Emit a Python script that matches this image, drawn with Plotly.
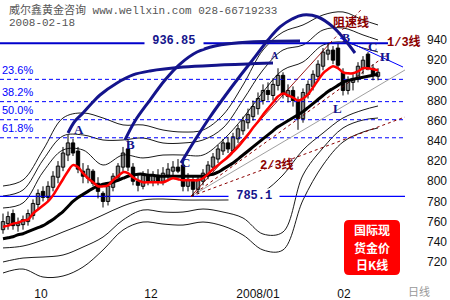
import plotly.graph_objects as go

# ---------------- data ----------------
opens  = [752,758,768,756,757,760,766,777,790,784,794,804,814,826,838,830,810,803,810,798,
          788,780,794,804,814,832,814,800,795,805,800,806,800,806,810,814,816,795,800,792,
          800,806,814,822,830,838,830,842,850,858,864,872,880,890,885,895,905,884,890,880,
          862,886,894,904,914,926,930,932,908,890,898,902,912,926,912,904]
highs  = [768,770,772,764,766,772,782,792,795,800,810,820,834,846,842,834,818,816,812,804,
          790,798,808,818,834,841,818,806,810,812,810,812,814,818,820,822,821,808,806,806,
          812,820,828,836,842,844,848,856,864,872,880,888,896,898,902,912,908,896,894,884,
          892,900,910,920,932,936.85,934,936,912,904,906,918,924,928,916,912]
lows   = [748,752,752,750,752,756,762,772,780,780,790,798,810,820,825,808,798,798,795,783,
          774,776,790,800,810,810,796,790,792,796,795,796,796,802,804,808,790,790,785.1,788,
          796,802,810,818,826,828,828,838,846,852,860,866,876,880,880,890,882,878,874,851,
          858,882,890,900,910,920,916,912,885,886,890,898,906,910,900,900]
closes = [760,765,756,758,762,768,778,788,784,795,805,815,828,838,828,812,805,812,798,790,
          780,795,805,815,828,814,800,796,806,800,806,800,808,812,814,810,795,802,792,802,
          808,816,824,832,838,832,844,852,860,866,874,882,890,886,896,905,886,890,880,862,
          888,896,906,916,928,930,920,915,890,900,902,914,920,912,906,908]

ma_short = [755,756,758,759,761,762,768,772,776,780,786,794,802,810,816,814,808,803,799,795,
            795,796,801,805,809,808,804,801,799,799,799,799,799,801,803,802,801,801,801,801,
            803,807,812,816,820,824,829,834,840,846,853,859,866,872,878,884,887,885,883,880,
            882,886,893,900,907,911,914,912,908,907,907,909,912,912,911,910]
ma_long  = [743,744,745,747,748,750,752,754,756,759,762,766,770,775,780,784,787,790,793,795,
            797,798,799,801,803,805,806,807,807,806,806,805,805,805,805,805,805,805,805,805,
            805,806,807,809,812,815,818,822,826,830,834,838,842,846,850,854,857,860,863,866,
            869,873,877,881,885,889,892,895,898,900,901,902,903,904,905,906]

band_x   = [0,4,8,12,16,20,24,28,32,36,40,44,48,52,56,60,64,68,72,75]
band_u3  = [795.3,801.3,831.0,862.7,867.7,862.7,855.8,855.8,850.8,848.8,850.8,865.7,895.4,930.1,947.9,954.9,964.8,967.8,959.8,954.9]
band_u2  = [785.4,791.3,821.1,844.9,845.9,840.9,840.9,842.9,837.9,837.9,840.9,852.8,880.5,910.3,930.1,935.0,949.9,951.9,945.0,940.0]
band_u1  = [773.5,778.5,809.2,831.0,831.0,816.1,826.0,823.1,826.0,826.0,826.0,840.9,862.7,888.5,910.3,918.2,935.0,938.0,932.1,928.1]
band_l1  = [733.9,735.8,741.8,749.7,757.6,766.6,775.5,781.4,782.4,781.4,781.4,781.4,782.4,789.4,806.2,831.0,847.8,862.7,870.6,874.6]
band_l2  = [720.0,723.9,724.9,726.9,734.8,744.7,761.6,771.5,769.5,769.5,772.5,769.5,763.6,747.7,749.7,806.2,833.0,852.8,860.7,862.7]
band_l3  = [709.1,713.0,705.1,706.1,715.0,731.9,751.7,759.6,757.6,756.6,759.6,755.7,746.7,731.9,731.9,781.4,816.1,838.9,848.8,852.8]

arc_a_x = [13.0,14.4,16.0,17.8,19.4,22.8,26.0,29.4,36.0,43.4,54.0]
arc_a_y = [847.8,859.7,867.7,877.6,885.5,897.4,905.4,909.3,913.2,915.2,917.2]
arc_b_x = [24.4,26.4,29.4,32.4,35.4,38.8,42.4,49.4,59.4]
arc_b_y = [840.9,859.7,880.5,900.4,916.2,928.1,934.1,938.0,939.0]
arc_c_x = [35.6,38.4,41.4,44.4,47.4,50.4,53.0,55.4,57.8,60.0,63.0,66.0,68.4,70.4]
arc_c_y = [818.1,840.9,863.7,884.5,904.3,923.2,940.0,952.9,960.8,964.8,962.8,952.9,940.0,927.1]

high_level = 936.85
low_level = 785.1
fib_levels = [901.0, 878.9, 861.0, 843.1]
fib_labels = ["23.6%", "38.2%", "50.0%", "61.8%"]

fan_origin = (37.6, 785.1)
speed_end = (65.4, 936.85)
speed_ext = (71.8, 971.0)
third_end = (77.0, 926.1)
gray_end = (80.4, 910.3)
twothird_end = (80.4, 863.7)
bh_line_x = [67.4, 80.0]
bh_line_y = [942.0, 913.2]

x_tick_pos = [7.6, 29.6, 51.0, 68.2]
x_tick_text = ["10", "12", "2008/01", "02"]
y_ticks = [720, 740, 760, 780, 800, 820, 840, 860, 880, 900, 920, 940]
logo_lines = ["国际现", "货金价", "日K线"]

X0, X1 = -0.6, 80.4
Y0, Y1 = 697.18, 979.64

NAVY = "#14148c"
BLUE = "#0000ff"
MAROON = "#8b0000"

fig = go.Figure()

def line(x, y, color, width, dash=None, shape="linear"):
    fig.add_trace(go.Scatter(x=x, y=y, mode="lines", hoverinfo="skip", showlegend=False,
                             line=dict(color=color, width=width, dash=dash, shape=shape)))

# bands
for b in (band_u3, band_u2, band_u1, band_l1, band_l2, band_l3):
    line(band_x, b, "black", 0.9, shape="spline")

# horizontal reference lines
for lv in fib_levels:
    line([X0, X1], [lv, lv], BLUE, 1, dash="4px,3px")
line([X0, 77.0], [high_level, high_level], "#0000cc", 2)
line([X0, X1], [low_level, low_level], BLUE, 1.2)

# fan lines
line([fan_origin[0], gray_end[0]], [fan_origin[1], gray_end[1]], "#a0a0a0", 1)
line([fan_origin[0], speed_end[0]], [fan_origin[1], speed_end[1]], MAROON, 0.9)
line([speed_end[0], speed_ext[0]], [speed_end[1], speed_ext[1]], MAROON, 0.9, dash="3px,3px")
line([fan_origin[0], third_end[0]], [fan_origin[1], third_end[1]], MAROON, 1, dash="3px,3px")
line([fan_origin[0], twothird_end[0]], [fan_origin[1], twothird_end[1]], MAROON, 1, dash="3px,3px")

# candles: wicks then bodies
idx = list(range(len(closes)))
wx, wy = [], []
for i, h, l in zip(idx, highs, lows):
    wx += [i, i, None]
    wy += [l, h, None]
fig.add_trace(go.Scatter(x=wx, y=wy, mode="lines", hoverinfo="skip", showlegend=False,
                         line=dict(color="black", width=1)))
body_base = [min(o, c) for o, c in zip(opens, closes)]
body_len = [max(abs(c - o), 0.8) for o, c in zip(opens, closes)]
body_col = ["white" if c >= o else "black" for o, c in zip(opens, closes)]
fig.add_trace(go.Bar(x=idx, y=body_len, base=body_base, width=0.68, hoverinfo="skip",
                     showlegend=False, marker=dict(color=body_col, line=dict(color="black", width=1))))

# moving averages
line(idx, ma_long, "black", 3, shape="spline")
line(idx, ma_short, "#ff0000", 2.5, shape="spline")

# arcs
line(arc_a_x, arc_a_y, NAVY, 3, shape="spline")
line(arc_b_x, arc_b_y, NAVY, 3, shape="spline")
line(arc_c_x, arc_c_y, NAVY, 3, shape="spline")
line(bh_line_x, bh_line_y, BLUE, 1)

ann = []
def txt(x, y, s, color, size, family, bold=False, bg=None, xref="x", yref="y", xanchor="center"):
    ann.append(dict(x=x, y=y, xref=xref, yref=yref, text=("<b>%s</b>" % s) if bold else s,
                    showarrow=False, xanchor=xanchor, yanchor="middle",
                    font=dict(color=color, size=size, family=family),
                    bgcolor=bg, borderpad=0))

SERIF = "Liberation Serif"
MONO = "Liberation Mono, Noto Sans CJK SC"
for s, x, y, sz in [("A", 15.2, 851.2, 13), ("B", 25.4, 836.0, 13), ("C", 36.4, 819.0, 13),
                    ("A", 54.4, 925.1, 10), ("B", 68.6, 942.0, 12), ("C", 73.8, 933.1, 13),
                    ("H", 76.4, 923.2, 13), ("L", 66.8, 872.6, 13)]:
    txt(x, y, s, NAVY, sz, SERIF, bold=True)

txt(34.2, 939.0, " 936.85 ", NAVY, 12, MONO, bold=True, bg="white")
txt(50.2, 785.4, " 785.1 ", NAVY, 12, MONO, bold=True, bg="white")
txt(69.6, 958.0, "阻速线", MAROON, 12, "Noto Sans CJK SC", bold=True)
txt(80.2, 938.0, "1/3线", MAROON, 12, MONO, bold=True)
txt(54.8, 816.1, "2/3线", MAROON, 12, MONO, bold=True)
for lab, lv in zip(fib_labels, fib_levels):
    txt(-0.4, lv + 9.5, lab, BLUE, 11, "Liberation Sans", xanchor="left")

# header
txt(0.02, 1 - 10 / 285, "威尔鑫黄金咨询 www.wellxin.com 028-66719233", "#555555", 11, MONO,
    xref="paper", yref="paper", xanchor="left")
txt(0.02, 1 - 23 / 285, "2008-02-18", "#555555", 11, MONO, xref="paper", yref="paper", xanchor="left")
txt(419 / 405, 1 - 291 / 285, "日线", "#999999", 11, "Noto Sans CJK SC", xref="paper", yref="paper")

# red logo
for k, s in enumerate(logo_lines):
    txt(372 / 405, 1 - (229.5 + 17.6 * k) / 285, s, "white", 12, "Noto Sans CJK SC", bold=True,
        xref="paper", yref="paper")

x0p, x1p = 344 / 405, 400 / 405
y0p, y1p = 1 - 275 / 285, 1 - 220 / 285
rx, ry = 5 / 405, 5 / 285
path = (f"M {x0p+rx},{y1p} L {x1p-rx},{y1p} Q {x1p},{y1p} {x1p},{y1p-ry} L {x1p},{y0p+ry} "
        f"Q {x1p},{y0p} {x1p-rx},{y0p} L {x0p+rx},{y0p} Q {x0p},{y0p} {x0p},{y0p+ry} "
        f"L {x0p},{y1p-ry} Q {x0p},{y1p} {x0p+rx},{y1p} Z")

fig.update_layout(
    width=450, height=300, margin=dict(l=0, r=45, t=0, b=15),
    paper_bgcolor="white", plot_bgcolor="white", showlegend=False,
    annotations=ann,
    shapes=[dict(type="path", path=path, xref="paper", yref="paper", fillcolor="#ff0000",
                 line=dict(width=0), layer="above")],
    xaxis=dict(range=[X0, X1], showgrid=False, zeroline=False, showline=False,
               tickvals=x_tick_pos, ticktext=x_tick_text, ticks="",
               tickfont=dict(size=12, color="#111111", family="Liberation Sans"),
               fixedrange=True),
    yaxis=dict(range=[Y0, Y1], side="right", showgrid=False, zeroline=False, showline=False,
               tickvals=y_ticks, ticks="", ticklabelstandoff=21,
               tickfont=dict(size=12, color="#111111", family="Liberation Sans"), fixedrange=True),
)

fig.write_html("out.html")
